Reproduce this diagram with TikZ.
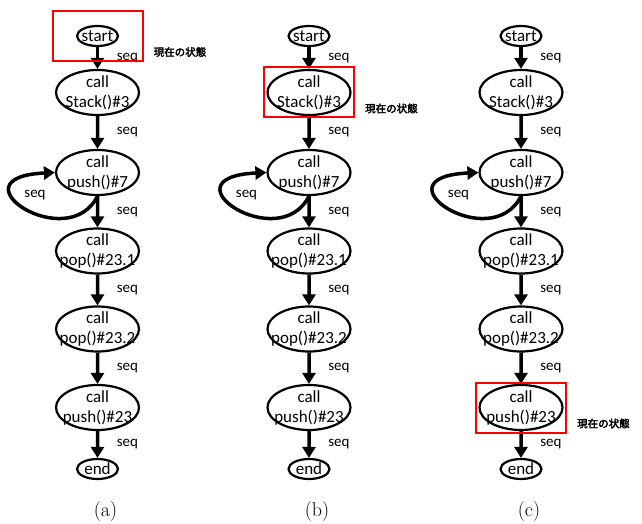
\documentclass[tikz,border=0pt]{standalone}
\usepackage{fontspec}
\usepackage{tikz}
\usetikzlibrary{shapes.geometric,arrows.meta}
\newfontfamily\nodefont{Carlito}
\newfontfamily\jpfont{Noto Sans CJK JP}[AutoFakeBold=3]

\tikzset{
	box/.style={ellipse, draw, line width=2.2pt, inner xsep=-18pt, inner ysep=-16pt, align=center, font=\nodefont\fontsize{17}{20}\selectfont},
	state/.style={box, minimum width=83pt, minimum height=45pt},
	term/.style={box, minimum width=41pt, minimum height=20pt},
	seqlab/.style={inner sep=0pt, font=\nodefont\fontsize{15}{18}\selectfont},
	seqedge/.style={draw, line width=3.5pt, -{Triangle[length=11pt,width=13pt]}},
	nowbox/.style={draw=red, line width=2pt, minimum width=90pt, minimum height=50pt, inner sep=0pt},
	nowlab/.style={inner sep=0pt, anchor=west, font=\jpfont\bfseries\fontsize{10.5}{12}\selectfont}
}

\begin{document}
\begin{tikzpicture}[x=1pt,y=1pt,edge from parent/.style={seqedge},level 1/.style={level distance=56.5pt},level 2/.style={level distance=80pt},level 3/.style={level distance=78.5pt},level 4/.style={level distance=78pt},level 5/.style={level distance=78.5pt},level 6/.style={level distance=61.5pt}]
	\useasboundingbox (0,0) rectangle (642,-524);
	\foreach \c/\x in {a/97.5, b/309, c/521}{
	\node[term] (\c1) at (\x,-36) {start}
		child { node[state] (\c2) {call\\Stack()\#3}
		        child { node[state] (\c3) {call\\push()\#7}
		                child { node[state] (\c4) {call\\pop()\#23.1}
		                        child { node[state] (\c5) {call\\pop()\#23.2}
		                                child { node[state] (\c6) {call\\push()\#23}
		                                        child { node[term] (\c7) {end}
		                                                edge from parent node[seqlab, right=17.5pt] {seq} }
		                                        edge from parent node[seqlab, right=17.5pt] {seq} }
		                                edge from parent node[seqlab, right=17.5pt] {seq} }
		                        edge from parent node[seqlab, right=17.5pt] {seq} }
		                edge from parent node[seqlab, right=17.5pt] {seq} }
		        edge from parent node[seqlab, right=17.5pt] {seq} }
	;
	% loop on push()#7
	\draw[seqedge] (\c3.south) .. controls +(-30,-60) and +(-105,-5) .. (\c3.west);
	\node[seqlab] (\c8) at ([xshift=-62.5pt,yshift=-22.5pt]\c3.center) {seq};
	}
	% current state
	\node[nowbox] (nowa) at (a1) {};
	\node[nowlab] (laba) at ([xshift=10pt,yshift=-16pt]nowa.east) {現在の状態};
	\node[nowbox] (nowb) at (b2) {};
	\node[nowlab] (labb) at ([xshift=10pt,yshift=-16pt]nowb.east) {現在の状態};
	\node[nowbox] (nowc) at (c6) {};
	\node[nowlab] (labc) at ([xshift=10pt,yshift=-16pt]nowc.east) {現在の状態};
	% captions
	\node[font=\fontsize{20}{24}\selectfont] (capa) at (105.5,-512) {(a)};
	\node[font=\fontsize{20}{24}\selectfont] (capb) at (317,-512) {(b)};
	\node[font=\fontsize{20}{24}\selectfont] (capc) at (529,-512) {(c)};
\end{tikzpicture}
\end{document}
